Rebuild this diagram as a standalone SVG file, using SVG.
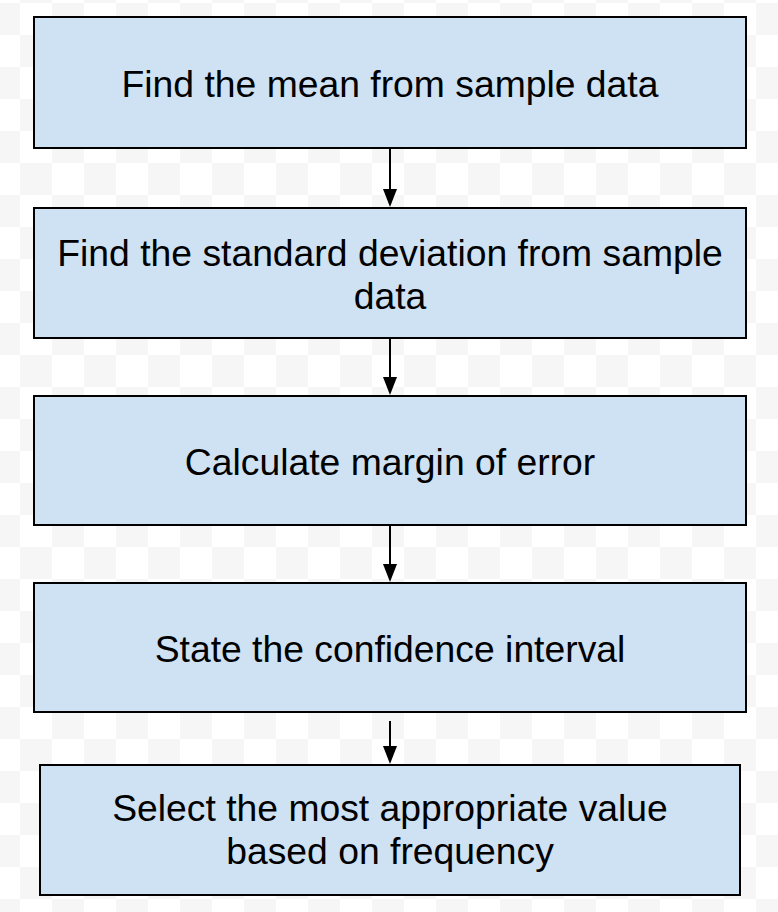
<svg xmlns="http://www.w3.org/2000/svg" width="778" height="912" viewBox="0 0 778 912">
<defs>
<pattern id="checker" x="20" y="3" width="64" height="64" patternUnits="userSpaceOnUse">
<rect width="64" height="64" fill="#ffffff"/>
<rect x="32" y="0" width="32" height="32" fill="#f6f6f6"/>
<rect x="0" y="32" width="32" height="32" fill="#f6f6f6"/>
</pattern>
</defs>
<style>
.box{fill:#cfe2f3;stroke:#000;stroke-width:2}
.lbl{font-family:"Liberation Sans",Arial,sans-serif;font-size:37.3px;fill:#000;text-anchor:middle}
.edge{stroke:#000;stroke-width:2;fill:none}
.head{fill:#000}
</style>
<rect width="778" height="912" fill="url(#checker)"/>
<g id="connectors">
<line class="edge" x1="390" y1="148" x2="390" y2="190"/>
<path class="head" d="M383,189 L397,189 L390,207 Z"/>
<line class="edge" x1="390" y1="338" x2="390" y2="378"/>
<path class="head" d="M383,377 L397,377 L390,395 Z"/>
<line class="edge" x1="390" y1="525" x2="390" y2="565"/>
<path class="head" d="M383,564 L397,564 L390,582 Z"/>
<line class="edge" x1="390" y1="721" x2="390" y2="747"/>
<path class="head" d="M383,746 L397,746 L390,764 Z"/>
</g>
<g id="n1">
<rect class="box" x="34" y="17" width="712" height="131"/>
<text class="lbl" x="390" y="96.7">Find the mean from sample data</text>
</g>
<g id="n2">
<rect class="box" x="34" y="208" width="712" height="130"/>
<text class="lbl" x="390" y="265.7">Find the standard deviation from sample</text>
<text class="lbl" x="390" y="309">data</text>
</g>
<g id="n3">
<rect class="box" x="34" y="396" width="712" height="129"/>
<text class="lbl" x="390" y="474.7">Calculate margin of error</text>
</g>
<g id="n4">
<rect class="box" x="34" y="583" width="712" height="129"/>
<text class="lbl" x="390" y="661.7">State the confidence interval</text>
</g>
<g id="n5">
<rect class="box" x="40" y="765" width="700" height="130"/>
<text class="lbl" x="390" y="820.7">Select the most appropriate value</text>
<text class="lbl" x="390" y="863.5">based on frequency</text>
</g>
</svg>
